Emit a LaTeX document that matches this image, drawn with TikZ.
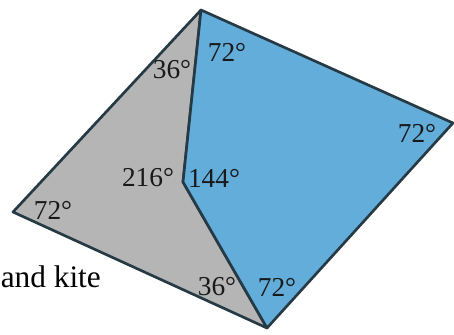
\documentclass[tikz,border=0pt]{standalone}
\usepackage{fontspec}
\setmainfont{Liberation Serif}
\definecolor{kitecol}{HTML}{63ADDB}
\definecolor{dartcol}{HTML}{B5B5B5}
\definecolor{edgecol}{HTML}{263A45}

\begin{document}
\begin{tikzpicture}[x=0.75pt, y=-0.75pt,
    tile/.style={draw=edgecol, line width=2pt, line join=round},
    ang/.style={font=\fontsize{20.5}{22}\selectfont, text=black!90, inner sep=0pt}]
  \useasboundingbox (0,0) rectangle (454,335);

  % vertices of the rhombus and the inner point
  \coordinate (T) at (201,10);
  \coordinate (R) at (453,123);
  \coordinate (B) at (267,328);
  \coordinate (L) at (13,212);
  \coordinate (I) at (183,182);

  % dart and kite
  \filldraw[tile, fill=dartcol] (T) -- (I) -- (B) -- (L) -- cycle;
  \filldraw[tile, fill=kitecol] (T) -- (R) -- (B) -- (I) -- cycle;

  % angles
  \node[ang] (kiteT) at (227,52) {72°};
  \node[ang] (dartT) at (172,70) {36°};
  \node[ang] (kiteR) at (417,133) {72°};
  \node[ang] (dartI) at (148,178) {216°};
  \node[ang] (kiteI) at (214,178) {144°};
  \node[ang] (dartL) at (53,210) {72°};
  \node[ang] (dartB) at (217,287) {36°};
  \node[ang] (kiteB) at (277,287) {72°};

  % caption
  \node[anchor=base west, inner sep=0pt, font=\fontsize{23.5}{26}\selectfont] (cap) at (0.5,287) {and kite};
\end{tikzpicture}
\end{document}
